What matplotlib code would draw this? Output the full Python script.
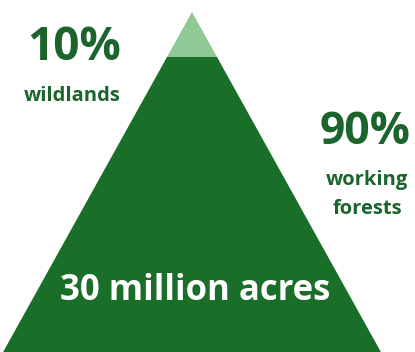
import matplotlib
matplotlib.use('Agg')
from matplotlib import pyplot as plt
from matplotlib.patches import Polygon

# data
shares = [10, 90]
share_labels = ['10%', '90%']
share_names = ['wildlands', 'working\nforests']
total_label = '30 million acres'

dark_green = '#196e28'
light_green = '#90c996'
text_green = '#1b642b'

fig = plt.figure(figsize=(4.15, 3.52), dpi=100)
ax = fig.add_axes([0, 0, 1, 1])
ax.set_xlim(0, 415)
ax.set_ylim(352, 0)
ax.axis('off')

# pyramid: apex, base, split between the two shares
apex_x, apex_y = 192, 12
base_y = 345
half_base = 185
split_y = 57

def edge_x(y, side):
    return apex_x + side * half_base * (y - apex_y) / (base_y - apex_y)

top = Polygon([(apex_x, apex_y), (edge_x(split_y, 1), split_y), (edge_x(split_y, -1), split_y)],
              closed=True, color=light_green, lw=0)
bottom_y = 360
body = Polygon([(edge_x(split_y, -1), split_y), (edge_x(split_y, 1), split_y),
                (edge_x(bottom_y, 1), bottom_y), (edge_x(bottom_y, -1), bottom_y)],
               closed=True, color=dark_green, lw=0)
ax.add_patch(top)
ax.add_patch(body)

font = 'Open Sans'
ax.text(74, 47, share_labels[0], ha='center', va='center', fontsize=33, fontweight='bold',
        color=text_green, family=font)
ax.text(72, 96, share_names[0], ha='center', va='center', fontsize=14.5, fontweight='bold',
        color=text_green, family=font)
ax.text(365, 132, share_labels[1], ha='center', va='center', fontsize=32, fontweight='bold',
        color=text_green, family=font)
for i, line in enumerate(share_names[1].split('\n')):
    ax.text(367, 180 + i * 29, line, ha='center', va='center', fontsize=14.5, fontweight='bold',
            color=text_green, family=font)
ax.text(195, 291, total_label, ha='center', va='center', fontsize=25, fontweight='bold',
        color='white', family=font)

plt.savefig('out.png', dpi=100)
